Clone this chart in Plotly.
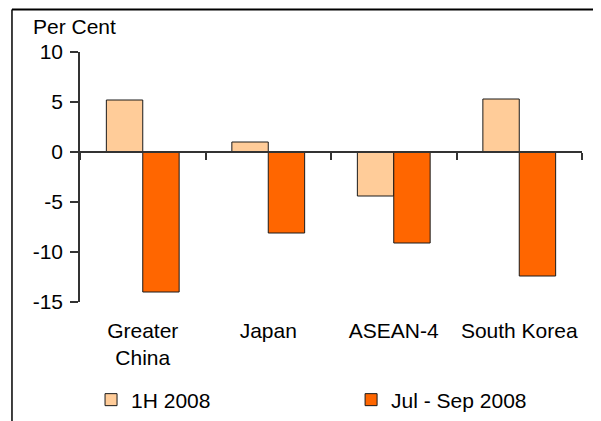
import plotly.graph_objects as go

categories = ["Greater<br>China", "Japan", "ASEAN-4", "South Korea"]
series_names = ["1H 2008", "Jul - Sep 2008"]
h1_2008 = [5.2, 1.0, -4.4, 5.3]
jul_sep_2008 = [-14.0, -8.1, -9.1, -12.4]
y_ticks = [10, 5, 0, -5, -10, -15]
y_tick_text = ["10", "5", "0", "-5", "-10", "-15"]

FONT = "Liberation Sans, Arial, sans-serif"
FS = 21

fig = go.Figure()
fig.add_trace(go.Bar(x=categories, y=h1_2008, name=series_names[0], legend="legend",
                     marker=dict(color="#FFCC99", line=dict(color="#1a1a1a", width=1))))
fig.add_trace(go.Bar(x=categories, y=jul_sep_2008, name=series_names[1], legend="legend2",
                     marker=dict(color="#FF6600", line=dict(color="#1a1a1a", width=1))))
# helper trace to carry the axis line at zero
fig.add_trace(go.Scatter(x=categories, y=[0] * len(categories), xaxis="x2", mode="lines",
                         line=dict(width=0), showlegend=False, hoverinfo="skip"))

legend_common = dict(orientation="h", yanchor="middle", xanchor="left", y=-0.392,
                     font=dict(family=FONT, size=FS, color="black"),
                     bgcolor="rgba(0,0,0,0)")

fig.update_layout(
    width=593, height=413,
    margin=dict(l=72, r=19, t=44, b=119, autoexpand=False),
    paper_bgcolor="white", plot_bgcolor="white",
    font=dict(family=FONT, size=FS, color="black"),
    barmode="group", bargap=0.42, bargroupgap=0,
    showlegend=True,
    legend=dict(x=0.022, **legend_common),
    legend2=dict(x=0.54, **legend_common),
    xaxis=dict(type="category", showline=False, ticks="", showgrid=False, zeroline=False,
               automargin=False, ticklabelstandoff=14, tickfont=dict(size=FS)),
    xaxis2=dict(type="category", overlaying="x", anchor="free", position=0.6,
                showline=True, linecolor="#333333", linewidth=1.5,
                ticks="outside", ticklen=7, tickcolor="#333333", tickwidth=1.5,
                tickson="boundaries", showticklabels=False, showgrid=False,
                automargin=False, range=[-0.5, 3.5]),
    yaxis=dict(range=[-15, 10], tickvals=y_ticks, ticktext=y_tick_text, showline=True,
               linecolor="#333333", linewidth=1.5, ticks="outside", ticklen=8,
               tickcolor="#333333", tickwidth=1.5, automargin=False,
               showgrid=False, zeroline=False, ticklabelstandoff=3,
               tickfont=dict(size=FS)),
)

fig.add_annotation(text="Per Cent", xref="paper", yref="paper", x=-0.097, y=1.1,
                   xanchor="left", yanchor="middle", showarrow=False,
                   font=dict(family=FONT, size=FS, color="black"))

# chart frame (left and top edges)
fig.add_shape(type="line", xref="paper", yref="paper", x0=-0.1355, x1=-0.1355, y0=1.17, y1=-0.6,
              line=dict(color="black", width=1.5))
fig.add_shape(type="line", xref="paper", yref="paper", x0=-0.1355, x1=1.1, y0=1.17, y1=1.17,
              line=dict(color="black", width=2))

fig.write_html("out.html")
